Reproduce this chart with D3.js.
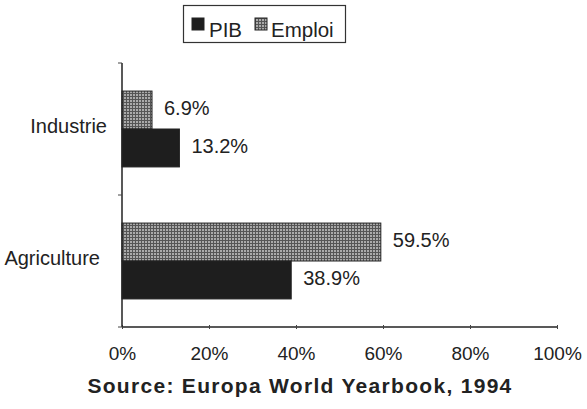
<!DOCTYPE html>
<html><head><meta charset="utf-8">
<script src="https://cdn.jsdelivr.net/npm/d3@7"></script>
<style>body{margin:0;background:#fff}svg{display:block}text{font-family:"Liberation Sans",Arial,sans-serif;fill:#222}</style>
</head><body><div id="chart"></div>
<script>
const categories = ["Industrie", "Agriculture"];
const seriesNames = ["Emploi", "PIB"];
const emploi = [6.9, 59.5];
const pib = [13.2, 38.9];
const xTicks = [0, 20, 40, 60, 80, 100];
const sourceText = "Source: Europa World Yearbook, 1994";

const W = 587, H = 409;
const FONT = '"Liberation Sans",Arial,sans-serif';
const svg = d3.select("#chart").append("svg").attr("width", W).attr("height", H);
const defs = svg.append("defs");
const pat = defs.append("pattern").attr("id", "hatch").attr("patternUnits", "userSpaceOnUse").attr("width", 3).attr("height", 3);
pat.append("rect").attr("width", 3).attr("height", 3).attr("fill", "#aaaaaa");
pat.append("path").attr("d", "M0,0.5H3M0.5,0V3").attr("stroke", "#555").attr("stroke-width", 1);

const x = d3.scaleLinear().domain([0, 100]).range([122, 557]);
const y = d3.scaleBand().domain(categories).range([63, 327]);
const inner = d3.scaleBand().domain(seriesNames).range([0, y.bandwidth()]).paddingInner(0).paddingOuter(0.74);

const data = categories.map((c, i) => ({cat: c, Emploi: emploi[i], PIB: pib[i]}));
const fills = {Emploi: "url(#hatch)", PIB: "#1e1e1e"};

const g = svg.append("g");
data.forEach(d => {
  seriesNames.forEach(s => {
    const yy = y(d.cat) + inner(s);
    g.append("rect").attr("x", x(0)).attr("y", yy).attr("width", x(d[s]) - x(0)).attr("height", inner.bandwidth())
      .attr("fill", fills[s]).attr("stroke", "#222").attr("stroke-width", 1);
    g.append("text").attr("x", x(d[s]) + 12).attr("y", yy + inner.bandwidth() / 2 - 2).attr("dy", "0.35em")
      .attr("font-size", 20).text(d[s].toFixed(1) + "%");
  });
});

// axes
const xAxis = d3.axisBottom(x).tickValues(xTicks).tickFormat(d => d + "%").tickSize(3).tickPadding(17);
const xa = svg.append("g").attr("transform", "translate(0,327)").call(xAxis);
xa.select(".domain").attr("stroke", "#222").attr("stroke-width", 1.5).attr("d", "M" + x(0) + ",0H" + x(100));
xa.selectAll(".tick line").attr("stroke", "#444").attr("y1", -2).attr("y2", 2);
xa.selectAll(".tick text").attr("font-size", 19).attr("fill", "#222").attr("font-family", FONT);

const yAxis = d3.axisLeft(y).tickSize(0).tickPadding(15);
const ya = svg.append("g").attr("transform", "translate(" + x(0) + ",0)").call(yAxis);
ya.select(".domain").attr("stroke", "#222").attr("stroke-width", 1.5).attr("d", "M0,63V327");
ya.selectAll(".tick text").attr("font-size", 20).attr("fill", "#222").attr("font-family", FONT)
  .attr("dy", "0.2em").attr("dx", (d, i) => i === 0 ? 0 : -7);
// boundary ticks
[63, 195, 327].forEach(v => svg.append("line").attr("x1", x(0) - 4).attr("x2", x(0)).attr("y1", v).attr("y2", v).attr("stroke", "#444"));

// legend
const lg = svg.append("g");
lg.append("rect").attr("x", 183.5).attr("y", 5.5).attr("width", 162).attr("height", 37).attr("fill", "none").attr("stroke", "#333").attr("stroke-width", 1.2);
const legendItems = [{name: "PIB", sx: 192, tx: 209}, {name: "Emploi", sx: 255, tx: 271}];
legendItems.forEach(it => {
  lg.append("rect").attr("x", it.sx).attr("y", 18).attr("width", 12).attr("height", 12).attr("fill", fills[it.name]).attr("stroke", "#222");
  lg.append("text").attr("x", it.tx).attr("y", 37).attr("font-size", 20.5).text(it.name);
});

svg.append("text").attr("x", 300).attr("y", 393).attr("text-anchor", "middle").attr("font-size", 21).attr("font-weight", "bold")
  .attr("letter-spacing", 1.3).text(sourceText);
</script></body></html>
